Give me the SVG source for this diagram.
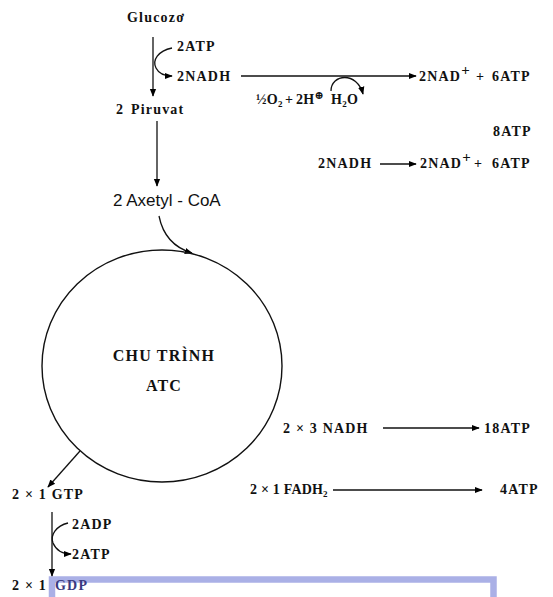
<svg xmlns="http://www.w3.org/2000/svg" width="553" height="597" viewBox="0 0 553 597">
<defs>
<marker id="ah" viewBox="0 0 10 10" refX="9" refY="5" markerWidth="8" markerHeight="8" markerUnits="userSpaceOnUse" orient="auto">
<path d="M0,1 L10,5 L0,9 Z" fill="#000"/>
</marker>
<style>
.t{font-family:"Liberation Serif","DejaVu Serif",serif;font-weight:bold;font-size:14px;letter-spacing:1.2px;fill:#111}
.w{word-spacing:2px}
.sub{font-size:9px}
.s{font-family:"Liberation Sans",Arial,sans-serif;font-size:17px;fill:#111}
.c{font-family:"Liberation Serif","DejaVu Serif",serif;font-weight:bold;font-size:16px;letter-spacing:1.2px;fill:#111}
.ln{fill:none;stroke:#111;stroke-width:1.3}
</style>
</defs>
<rect width="553" height="597" fill="#fff"/>
<path d="M52,597 V579.5 H493.5 V597" fill="none" stroke="#aab0e6" stroke-width="6.5"/>
<g id="connectors">
<line class="ln" x1="153" y1="37" x2="153" y2="96" marker-end="url(#ah)"/>
<path class="ln" d="M172,48 C158,51 152,60 156,68 C159,74 164,76 172,76" marker-end="url(#ah)"/>
<line class="ln" x1="241" y1="76" x2="416" y2="76" marker-end="url(#ah)"/>
<path class="ln" d="M331,91 C331,74 357,71 363,94" marker-end="url(#ah)"/>
<line class="ln" x1="380" y1="164" x2="416" y2="164" marker-end="url(#ah)"/>
<line class="ln" x1="157" y1="121" x2="157" y2="186" marker-end="url(#ah)"/>
<path class="ln" d="M159,216 C163,236 175,248 192,253" marker-end="url(#ah)"/>
<line class="ln" x1="80" y1="451" x2="48" y2="487" marker-end="url(#ah)"/>
<line class="ln" x1="52" y1="512" x2="52" y2="576" marker-end="url(#ah)"/>
<path class="ln" d="M68,523 C56,526 50,535 53,543 C56,550 62,554 71,554" marker-end="url(#ah)"/>
<line class="ln" x1="383" y1="428" x2="479" y2="428" marker-end="url(#ah)"/>
<line class="ln" x1="333" y1="490" x2="482" y2="490" marker-end="url(#ah)"/>
</g>
<g id="glucoza"><text class="t" x="127" y="22">Glucozơ</text></g>
<g id="atp1"><text class="t" x="177" y="51">2ATP</text></g>
<g id="nadh1"><text class="t" x="177" y="81">2NADH</text></g>
<g id="nad1"><text class="t" x="419" y="81">2NAD<tspan dy="-6" font-size="15">+</tspan><tspan dy="6" x="476">+</tspan><tspan x="492">6ATP</tspan></text></g>
<g id="oxy"><text class="t" x="256" y="104" style="letter-spacing:0.3px">½O<tspan class="sub" dy="3">2</tspan><tspan dy="-3" x="285">+</tspan><tspan x="296">2H</tspan><tspan dy="-5" font-size="11">⊕</tspan><tspan dy="5" x="331">H</tspan><tspan class="sub" dy="3">2</tspan><tspan dy="-3">O</tspan></text></g>
<g id="piruvat"><text class="t w" x="116" y="114">2 Piruvat</text></g>
<g id="atp8"><text class="t" x="493" y="136">8ATP</text></g>
<g id="nadh2"><text class="t" x="318" y="168">2NADH</text></g>
<g id="nad2"><text class="t" x="420" y="168">2NAD<tspan dy="-6" font-size="15">+</tspan><tspan dy="6" x="474">+</tspan><tspan x="492">6ATP</tspan></text></g>
<g id="axetyl"><text class="s" x="113" y="206">2 Axetyl - CoA</text></g>
<g id="cycle">
<ellipse cx="162" cy="366" rx="120" ry="116" fill="none" stroke="#111" stroke-width="1.4"/>
<text class="c" x="164" y="361" text-anchor="middle">CHU TRÌNH</text>
<text class="c" x="164" y="391" text-anchor="middle">ATC</text>
</g>
<g id="nadh3"><text class="t" x="283" y="433">2 × 3 NADH</text></g>
<g id="atp18"><text class="t" x="484" y="433">18ATP</text></g>
<g id="gtp"><text class="t" x="12" y="499">2 × 1 GTP</text></g>
<g id="fadh"><text class="t" x="250" y="494" style="letter-spacing:0.2px">2 × 1 FADH<tspan class="sub" dy="3">2</tspan></text></g>
<g id="atp4"><text class="t" x="500" y="494">4ATP</text></g>
<g id="adp"><text class="t" x="72" y="529">2ADP</text></g>
<g id="atp2"><text class="t" x="72" y="559">2ATP</text></g>
<g id="gdp"><text class="t" x="12" y="590">2 × 1 <tspan x="55" fill="#3a3a80">GDP</tspan></text></g>
</svg>
